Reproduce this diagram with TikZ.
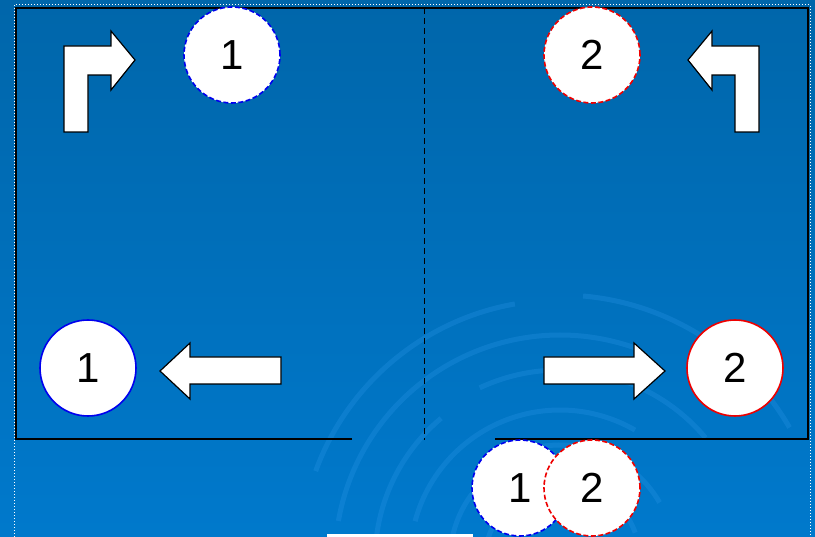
\documentclass[tikz,border=0pt]{standalone}
\usepackage{fontspec}
\setmainfont{Liberation Sans}
\definecolor{slidetop}{HTML}{0066AA}
\definecolor{slidebot}{HTML}{0079CC}
\definecolor{swirl}{HTML}{2A95E6}
\definecolor{ballblue}{HTML}{0000EE}
\definecolor{ballred}{HTML}{EE0000}
\begin{document}
\begin{tikzpicture}[x=1pt,y=-1pt,
    ball/.style={circle,fill=white,minimum size=96pt,inner sep=0pt,line width=1.6pt,
      font=\fontsize{42}{42}\selectfont},
    ghost/.style={ball,dash pattern=on 5pt off 2.5pt},
    blockarrow/.style={fill=white,draw=black,line width=1.2pt,line join=miter}]
  % background
  \shade[top color=slidetop,bottom color=slidebot] (0,0) rectangle (815,537);
  \useasboundingbox (0,0) rectangle (815,537);
  \begin{scope}
    \clip (0,0) rectangle (815,537);
    \foreach \r/\a/\b in {45/200/320, 75/190/250, 80/270/340, 110/185/240, 115/255/330,
        150/195/300, 185/180/230, 190/245/320, 225/190/290, 260/200/260, 265/275/330}
      \draw[swirl,opacity=0.3,line width=5pt] (560,560) ++(\a:\r) arc[start angle=\a,end angle=\b,radius=\r];
  \end{scope}
  \draw[white,dotted,line width=1pt] (14,537) -- (14,5) -- (810,5) -- (810,537);
  \fill[white] (327,534) rectangle (473,537);

  % frame and divider
  \draw[line width=1.2pt] (352,439) -- (16,439) -- (16,8) -- (808,8) -- (808,439) -- (495,439);
  \draw[dash pattern=on 6pt off 4pt,line width=1pt] (424,8) -- (424,440);

  % turning arrows
  \draw[blockarrow] (64,132) -- (64,46) -- (111,46) -- (111,31) -- (135,60)
    -- (111,90) -- (111,75) -- (88,75) -- (88,132) -- cycle;
  \draw[blockarrow] (759,132) -- (759,46) -- (712,46) -- (712,31) -- (688,60)
    -- (712,90) -- (712,75) -- (735,75) -- (735,132) -- cycle;
  % straight arrows
  \draw[blockarrow] (281,357) -- (190,357) -- (190,343) -- (160,371)
    -- (190,399) -- (190,384) -- (281,384) -- cycle;
  \draw[blockarrow] (544,357) -- (634,357) -- (634,343) -- (665,371)
    -- (634,399) -- (634,384) -- (544,384) -- cycle;

  % balls
  \node[ghost,draw=ballblue] (onetop) at (232,55) {1};
  \node[ghost,draw=ballred] (twotop) at (592,55) {2};
  \node[ball,draw=ballblue] (onebot) at (88,368) {1};
  \node[ball,draw=ballred] (twobot) at (735,368) {2};
  \node[ghost,draw=ballblue] (onemix) at (520,488) {1};
  \node[ghost,draw=ballred] (twomix) at (592,488) {2};
\end{tikzpicture}
\end{document}
